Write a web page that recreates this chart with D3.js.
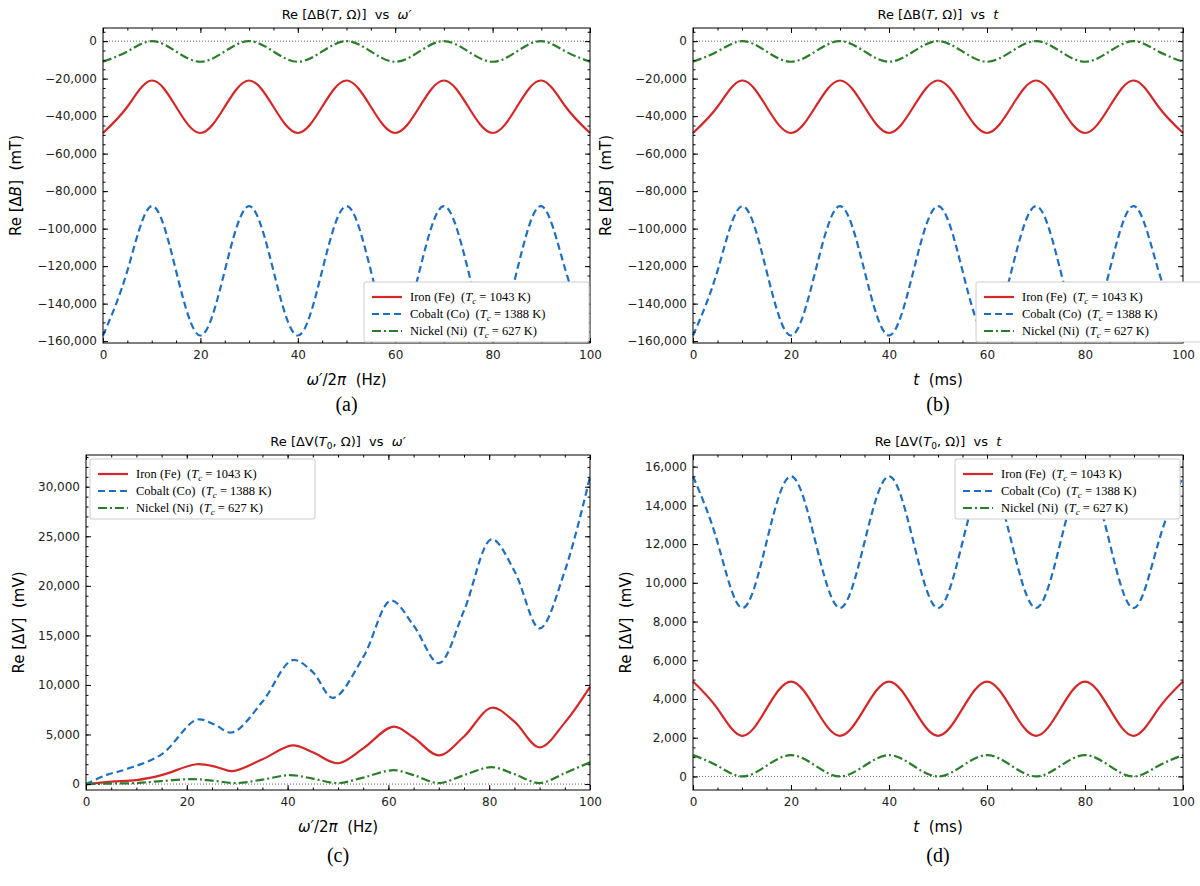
<!DOCTYPE html>
<html><head><meta charset="utf-8">
<script src="https://cdn.jsdelivr.net/npm/d3@7"></script>
<style>body{margin:0;background:#fff}text{font-family:"DejaVu Sans",sans-serif;white-space:pre}text.serif{font-family:"Liberation Serif",serif}</style>
</head><body>
<svg width="1200" height="886"></svg>
<script>
// values sampled every 5 units, x = 0..100
let xs = d3.range(0, 101, 5);
let feB = [-49000,-35000,-21000,-35000,-49000,-35000,-21000,-35000,-49000,-35000,-21000,-35000,-49000,-35000,-21000,-35000,-49000,-35000,-21000,-35000,-49000];
let coB = [-157000,-122500,-88000,-122500,-157000,-122500,-88000,-122500,-157000,-122500,-88000,-122500,-157000,-122500,-88000,-122500,-157000,-122500,-88000,-122500,-157000];
let niB = [-11000,-5500,0,-5500,-11000,-5500,0,-5500,-11000,-5500,0,-5500,-11000,-5500,0,-5500,-11000,-5500,0,-5500,-11000];
let coD = [15500,12100,8700,12100,15500,12100,8700,12100,15500,12100,8700,12100,15500,12100,8700,12100,15500,12100,8700,12100,15500];
let feD = [4900,3500,2100,3500,4900,3500,2100,3500,4900,3500,2100,3500,4900,3500,2100,3500,4900,3500,2100,3500,4900];
let niD = [1100,550,0,550,1100,550,0,550,1100,550,0,550,1100,550,0,550,1100,550,0,550,1100];
// panel (c): irregular x positions
let coCx = [0,4,8,15,22,25.5,29,35,41,45,49,55,60.5,65,70,75,80.5,85,90,95,100];
let coC  = [0,900,1500,3000,6500,6000,5200,8300,12500,11300,8700,12800,18500,16000,12200,17500,24700,21500,15700,21500,31000];
let feCx = [0,5,10,15,22,26,29,35,41,45,50,55,61,65,70,75,80.5,85,90,95,100];
let feC  = [0,250,400,900,2000,1700,1300,2500,3900,3200,2100,3600,5800,4700,2900,4800,7700,6300,3700,6200,9800];
let niCx = [0,5,10,15,21,25,30,35,40.5,45,50,55,61,65,70,75,80.5,85,90,95,100];
let niC  = [0,50,100,300,500,350,100,450,900,550,100,650,1400,900,100,900,1700,1000,100,1100,2200];

let names = ["Iron (Fe)", "Cobalt (Co)", "Nickel (Ni)"];
let tcs = ["1043", "1388", "627"];
let colors = ["#d62728", "#1f6fc0", "#2a7d2a"];
let dashes = [null, "7,4", "9,3,2,3"];

let svg = d3.select("svg");

function panel(o) {
    let g = svg.append("g");
    let x = d3.scaleLinear().domain([0, 100]).range([o.x0, o.x1]);
    let y = d3.scaleLinear().domain(o.yd).range([o.y1, o.y0]);
    let fmt = d3.format(",");
    g.append("line").attr("x1", o.x0).attr("x2", o.x1).attr("y1", y(0)).attr("y2", y(0))
        .attr("stroke", "#444").attr("stroke-width", 0.8).attr("stroke-dasharray", "1,2");
    let line = d3.line().x(d => x(d[0])).y(d => y(d[1])).curve(o.curve);
    o.series.forEach((s, i) => {
        g.append("path").datum(s).attr("d", line).attr("fill", "none")
            .attr("stroke", colors[i]).attr("stroke-width", 2.2).attr("stroke-dasharray", dashes[i]);
    });
    let ax = d3.axisBottom(x).ticks(5).tickSize(-5).tickPadding(7);
    let axm = d3.axisBottom(x).ticks(25).tickSize(-2.5).tickFormat("");
    let ay = d3.axisLeft(y).tickValues(o.yt).tickSize(-5).tickPadding(6).tickFormat(fmt);
    let aym = d3.axisLeft(y).tickValues(o.ym).tickSize(-2.5).tickFormat("");
    let b = g.append("g").attr("transform", `translate(0,${o.y1})`);
    b.call(ax); b.append("g").call(axm);
    let t = g.append("g").attr("transform", `translate(0,${o.y0})`);
    t.call(d3.axisTop(x).ticks(5).tickSize(-5).tickFormat(""));
    t.append("g").call(d3.axisTop(x).ticks(25).tickSize(-2.5).tickFormat(""));
    let l = g.append("g").attr("transform", `translate(${o.x0},0)`);
    l.call(ay); l.append("g").call(aym);
    let r = g.append("g").attr("transform", `translate(${o.x1},0)`);
    r.call(d3.axisRight(y).tickValues(o.yt).tickSize(-5).tickFormat(""));
    r.append("g").call(d3.axisRight(y).tickValues(o.ym).tickSize(-2.5).tickFormat(""));
    g.selectAll(".domain").remove();
    g.selectAll(".tick text").attr("font-size", 12).attr("fill", "#222");
    g.append("rect").attr("x", o.x0).attr("y", o.y0).attr("width", o.x1 - o.x0).attr("height", o.y1 - o.y0)
        .attr("fill", "none").attr("stroke", "#000").attr("stroke-width", 1);
    g.append("text").attr("x", (o.x0 + o.x1) / 2).attr("y", o.y0 - 9).attr("text-anchor", "middle")
        .attr("font-size", 13).html(o.title);
    g.append("text").attr("x", (o.x0 + o.x1) / 2).attr("y", o.y1 + 42).attr("text-anchor", "middle")
        .attr("font-size", 15).html(o.xl);
    g.append("text").attr("transform", `translate(${o.x0 - o.yoff},${(o.y0 + o.y1) / 2}) rotate(-90)`)
        .attr("text-anchor", "middle").attr("font-size", 15).html(o.yl);
    g.append("text").attr("class", "serif").attr("x", (o.x0 + o.x1) / 2).attr("y", o.cap).attr("text-anchor", "middle")
        .attr("font-size", 20).text(o.capt);
    // legend
    let lg = g.append("g").attr("transform", `translate(${o.lx},${o.ly})`);
    lg.append("rect").attr("width", 225).attr("height", 60).attr("fill", "#fff")
        .attr("stroke", "#ccc").attr("rx", 2);
    names.forEach((n, i) => {
        let yy = 15 + i * 17;
        lg.append("line").attr("x1", 8).attr("x2", 38).attr("y1", yy).attr("y2", yy)
            .attr("stroke", colors[i]).attr("stroke-width", 2.2).attr("stroke-dasharray", dashes[i]);
        lg.append("text").attr("class", "serif").attr("x", 46).attr("y", yy + 4).attr("font-size", 12.5)
            .html(`${n}  (<tspan font-style="italic">T</tspan><tspan font-size="9" dy="3" font-style="italic">c</tspan><tspan dy="-3"> = ${tcs[i]} K)</tspan>`);
    });
}

function zip(a, b) { return a.map((v, i) => [v, b[i]]); }
let bTicks = d3.range(-160000, 1, 20000), bMinor = d3.range(-160000, 5001, 5000);
let ital = s => `<tspan font-style="italic">${s}</tspan>`;

panel({x0: 103, x1: 590, y0: 28, y1: 343, yd: [-161000, 7000], yt: bTicks, ym: bMinor,
    series: [zip(xs, feB), zip(xs, coB), zip(xs, niB)], curve: d3.curveNatural,
    title: `Re [ΔB(${ital("T")}, Ω)]  vs  ${ital("ω′")}`, xl: `${ital("ω′")}/2${ital("π")}  (Hz)`,
    yl: `Re [Δ${ital("B")}]  (mT)`, yoff: 82, cap: 411, capt: "(a)", lx: 364, ly: 282});
panel({x0: 693, x1: 1183, y0: 28, y1: 343, yd: [-161000, 7000], yt: bTicks, ym: bMinor,
    series: [zip(xs, feB), zip(xs, coB), zip(xs, niB)], curve: d3.curveNatural,
    title: `Re [ΔB(${ital("T")}, Ω)]  vs  ${ital("t")}`, xl: `${ital("t")}  (ms)`,
    yl: `Re [Δ${ital("B")}]  (mT)`, yoff: 82, cap: 411, capt: "(b)", lx: 976, ly: 282});
panel({x0: 86, x1: 590, y0: 455, y1: 790, yd: [-600, 33200], yt: d3.range(0, 30001, 5000), ym: d3.range(0, 33001, 1000),
    series: [zip(feCx, feC), zip(coCx, coC), zip(niCx, niC)], curve: d3.curveCatmullRom,
    title: `Re [ΔV(${ital("T")}<tspan font-size="9" dy="3">0</tspan><tspan dy="-3">, Ω)]  vs  </tspan>${ital("ω′")}`,
    xl: `${ital("ω′")}/2${ital("π")}  (Hz)`, yl: `Re [Δ${ital("V")}]  (mV)`, yoff: 62, cap: 862, capt: "(c)", lx: 90, ly: 459});
panel({x0: 693, x1: 1183, y0: 455, y1: 790, yd: [-700, 16600], yt: d3.range(0, 16001, 2000), ym: d3.range(0, 16001, 500),
    series: [zip(xs, feD), zip(xs, coD), zip(xs, niD)], curve: d3.curveNatural,
    title: `Re [ΔV(${ital("T")}<tspan font-size="9" dy="3">0</tspan><tspan dy="-3">, Ω)]  vs  </tspan>${ital("t")}`,
    xl: `${ital("t")}  (ms)`, yl: `Re [Δ${ital("V")}]  (mV)`, yoff: 62, cap: 862, capt: "(d)", lx: 955, ly: 459});
</script>
</body></html>
